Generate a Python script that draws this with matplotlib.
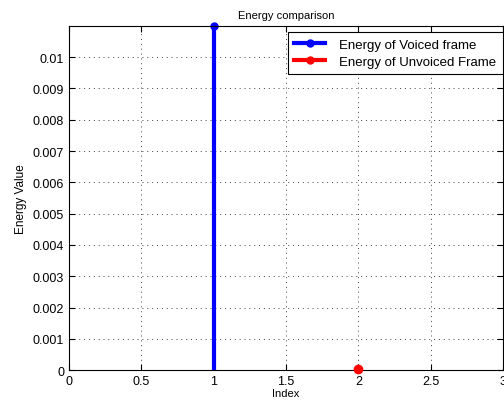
import numpy as np
from matplotlib import pyplot as plt

plt.rcParams['font.family'] = ['Liberation Sans', 'DejaVu Sans']

voiced_x = [1]
voiced_energy = [0.01099]
unvoiced_x = [2]
unvoiced_energy = [0.00002]

fig = plt.figure(figsize=(5.04, 4.06), dpi=100)
ax = fig.add_axes([0.137, 0.086, 0.861, 0.847])

ax.plot([], [], color='blue', lw=3, marker='o', ms=5, label='Energy of Voiced frame')
ax.plot([], [], color='red', lw=3, marker='o', ms=5, label='Energy of Unvoiced Frame')
for xv, yv in zip(voiced_x, voiced_energy):
    ax.plot([xv, xv], [0, yv], color='blue', lw=3)
    ax.plot(xv, yv, color='blue', marker='o', ms=5, clip_on=False)
for xv, yv in zip(unvoiced_x, unvoiced_energy):
    ax.plot([xv, xv], [0, yv], color='red', lw=3)
    ax.plot(xv, yv, color='red', marker='o', ms=6, clip_on=False, zorder=5)

ax.set_xlim(0, 3)
ax.set_ylim(0, 0.01099)
ax.set_xticks(np.arange(0, 3.01, 0.5))
ax.set_xticklabels(['0', '0.5', '1', '1.5', '2', '2.5', '3'])
ax.set_yticks(np.arange(0, 0.0101, 0.001))
ax.set_yticklabels(['0'] + ['%g' % (i * 0.001) for i in range(1, 11)])
ax.tick_params(direction='in', labelsize=9, top=True, right=True, length=4)
ax.grid(True, color='0.25', linestyle=(0, (1, 4)), linewidth=0.7)
ax.set_title('Energy comparison', fontsize=8, pad=6)
ax.set_xlabel('Index', fontsize=8, labelpad=1)
ax.set_ylabel('Energy Value', fontsize=8.5)
leg = ax.legend(loc='upper right', bbox_to_anchor=(1.0, 0.983), fontsize=9.5,
                fancybox=False, edgecolor='black', framealpha=1, borderaxespad=0,
                handlelength=2.3, labelspacing=0.35, borderpad=0.5, handletextpad=1.1)
leg.get_frame().set_linewidth(0.8)
fig.savefig('out.png', dpi=100)
